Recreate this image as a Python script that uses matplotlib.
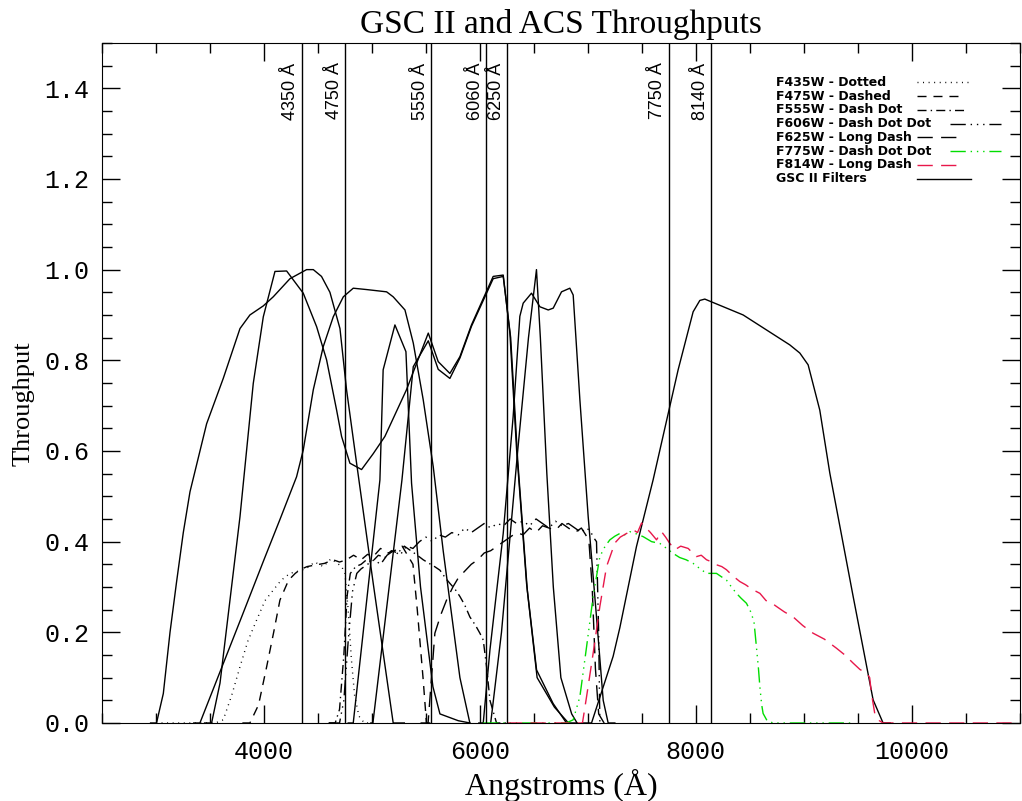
import matplotlib
matplotlib.use("Agg")
import matplotlib.pyplot as plt
from matplotlib.ticker import MultipleLocator, FormatStrFormatter

# ACS pivot wavelengths marked with vertical lines
pivot_waves = [4350, 4750, 5550, 6060, 6250, 7750, 8140]

# GSC II filter curves (solid)
g1_lam = [2950, 3005, 3068, 3130, 3190, 3253, 3315, 3469, 3623, 3778, 3870, 3994, 4086,
          4241, 4395, 4457, 4533, 4611, 4704, 4765, 4858, 5012, 5197, 5300]
g1_thr = [0.0, 0.0, 0.065, 0.2, 0.31, 0.42, 0.51, 0.66, 0.76, 0.87, 0.90, 0.92, 0.94,
          0.98, 1.0, 1.0, 0.985, 0.95, 0.87, 0.735, 0.573, 0.308, 0.0, 0.0]

g2_lam = [3450, 3515, 3593, 3778, 3901, 3994, 4102, 4210, 4364, 4488, 4580, 4673, 4719,
          4796, 4904, 5012, 5120, 5320, 5522, 5614, 5722, 5815, 5922, 6123, 6216, 6278,
          6340, 6432, 6525, 6678, 6802, 6900]
g2_thr = [0.0, 0.0, 0.088, 0.455, 0.749, 0.896, 0.996, 0.997, 0.948, 0.874, 0.801, 0.690,
          0.632, 0.573, 0.559, 0.594, 0.632, 0.735, 0.860, 0.797, 0.771, 0.808, 0.878,
          0.985, 0.988, 0.860, 0.602, 0.308, 0.117, 0.043, 0.0, 0.0]

g2b_lam = [4990, 5009, 5278, 5383, 5522, 5614, 5722, 5815, 5922, 6123, 6216, 6285, 6350,
           6440, 6530, 6690, 6820]
g2b_thr = [0.0, 0.0, 0.536, 0.786, 0.843, 0.78, 0.760, 0.805, 0.875, 0.98, 0.985, 0.85,
           0.58, 0.29, 0.10, 0.035, 0.0]

g3_lam = [3350, 3407, 3600, 3800, 4000, 4150, 4302, 4364, 4457, 4549, 4642, 4735, 4827,
          4951, 5136, 5197, 5306, 5383, 5475, 5568, 5660, 5815, 5907]
g3_thr = [0.0, 0.0, 0.117, 0.238, 0.36, 0.45, 0.543, 0.602, 0.735, 0.830, 0.896, 0.940,
          0.959, 0.956, 0.951, 0.940, 0.911, 0.838, 0.713, 0.565, 0.38, 0.10, 0.0]

g4_lam = [4780, 4827, 5074, 5104, 5213, 5315, 5367, 5450, 5565, 5630, 5800, 5907]
g4_thr = [0.0, 0.0, 0.536, 0.779, 0.878, 0.819, 0.529, 0.30, 0.08, 0.02, 0.005, 0.0]

g5_lam = [6100, 6200, 6350, 6450, 6524, 6560, 6620, 6680, 6750, 6850, 6900]
g5_thr = [0.0, 0.2, 0.6, 0.85, 1.0, 0.85, 0.55, 0.3, 0.1, 0.02, 0.0]

g6_lam = [5990, 6031, 6093, 6216, 6308, 6370, 6401, 6478, 6556, 6633, 6679, 6756, 6833,
          6864, 6926, 7003, 7080, 7142, 7188, 7250]
g6_thr = [0.0, 0.0, 0.161, 0.418, 0.676, 0.897, 0.926, 0.948, 0.918, 0.911, 0.915, 0.951,
          0.959, 0.944, 0.713, 0.455, 0.234, 0.05, 0.0, 0.0]

g7_lam = [6950, 7034, 7234, 7296, 7450, 7604, 7836, 7975, 8037, 8083, 8438, 8870, 8963,
          9040, 9148, 9241, 9457, 9642, 9734, 9800]
g7_thr = [0.0, 0.0, 0.147, 0.21, 0.389, 0.536, 0.779, 0.907, 0.932, 0.935, 0.900, 0.834,
          0.816, 0.790, 0.690, 0.551, 0.279, 0.051, 0.0, 0.0]

# ACS filters
f435_lam = [3000, 3550, 3623, 3700, 3778, 3850, 3932, 4010, 4086, 4160, 4241, 4320, 4395,
            4470, 4549, 4620, 4680, 4720, 4750, 4780, 4810, 4840, 4880, 4930, 5000]
f435_thr = [0.0, 0.0, 0.007, 0.06, 0.124, 0.18, 0.227, 0.27, 0.293, 0.315, 0.330, 0.335,
            0.341, 0.355, 0.345, 0.362, 0.352, 0.345, 0.33, 0.25, 0.14, 0.06, 0.015, 0.0, 0.0]

f475_lam = [3800, 3870, 3950, 4025, 4090, 4148, 4228, 4290, 4333, 4400, 4488, 4560, 4640,
            4700, 4765, 4830, 4900, 4960, 5012, 5080, 5150, 5228, 5280, 5330, 5380, 5420,
            5475, 5505, 5600]
f475_thr = [0.0, 0.0, 0.04, 0.124, 0.2, 0.271, 0.315, 0.33, 0.338, 0.345, 0.349, 0.352,
            0.36, 0.355, 0.36, 0.37, 0.36, 0.372, 0.367, 0.385, 0.375, 0.382, 0.39, 0.37,
            0.35, 0.25, 0.095, 0.0, 0.0]

f555_lam = [4600, 4660, 4700, 4740, 4770, 4800, 4850, 4900, 4950, 5000, 5060, 5120, 5180,
            5240, 5300, 5360, 5420, 5475, 5530, 5580, 5630, 5680, 5722, 5770, 5815, 5860,
            5907, 5960, 6000, 6031, 6062, 6093, 6154, 6250]
f555_thr = [0.0, 0.0, 0.03, 0.15, 0.28, 0.33, 0.345, 0.35, 0.36, 0.355, 0.37, 0.365, 0.38,
            0.375, 0.39, 0.38, 0.37, 0.36, 0.352, 0.345, 0.337, 0.32, 0.308, 0.295, 0.279,
            0.26, 0.234, 0.215, 0.198, 0.183, 0.124, 0.05, 0.0, 0.0]

f606_lam = [4600, 4700, 4740, 4780, 4820, 4860, 4900, 4960, 5020, 5080, 5140, 5200, 5260,
            5320, 5380, 5440, 5500, 5560, 5620, 5680, 5740, 5800, 5860, 5920, 5980, 6040,
            6100, 6160, 6220, 6280, 6340, 6400, 6460, 6520, 6580, 6640, 6700, 6760, 6820,
            6880, 6940, 6980, 7020, 7050, 7080, 7100, 7111, 7200]
f606_thr = [0.0, 0.0, 0.05, 0.18, 0.29, 0.33, 0.34, 0.35, 0.36, 0.35, 0.37, 0.38, 0.37,
            0.39, 0.385, 0.40, 0.41, 0.40, 0.415, 0.41, 0.42, 0.415, 0.43, 0.42, 0.43, 0.44,
            0.43, 0.44, 0.435, 0.45, 0.44, 0.445, 0.435, 0.45, 0.44, 0.43, 0.445, 0.435,
            0.44, 0.43, 0.42, 0.43, 0.425, 0.41, 0.40, 0.2, 0.0, 0.0]

f625_lam = [5450, 5520, 5583, 5640, 5691, 5750, 5800, 5860, 5920, 5980, 6040, 6100, 6160,
            6220, 6280, 6340, 6400, 6460, 6520, 6580, 6640, 6700, 6760, 6820, 6880, 6940,
            6980, 7010, 7040, 7070, 7100, 7150]
f625_thr = [0.0, 0.0, 0.198, 0.24, 0.271, 0.30, 0.32, 0.335, 0.35, 0.36, 0.375, 0.38, 0.39,
            0.40, 0.41, 0.42, 0.415, 0.43, 0.42, 0.435, 0.43, 0.425, 0.44, 0.43, 0.42, 0.43,
            0.415, 0.40, 0.30, 0.12, 0.02, 0.0]

f775_lam = [6030, 6800, 6864, 6926, 6988, 7049, 7111, 7160, 7204, 7250, 7296, 7340, 7389,
            7440, 7512, 7590, 7667, 7730, 7790, 7850, 7910, 7975, 8040, 8099, 8150, 8191,
            8240, 8284, 8330, 8376, 8420, 8469, 8515, 8540, 8561, 8580, 8593, 8610, 8623,
            8660, 8716, 9450]
f775_thr = [0.0, 0.0, 0.007, 0.058, 0.168, 0.279, 0.367, 0.39, 0.404, 0.412, 0.418, 0.415,
            0.422, 0.418, 0.411, 0.40, 0.396, 0.385, 0.374, 0.365, 0.36, 0.352, 0.34, 0.330,
            0.33, 0.330, 0.322, 0.315, 0.30, 0.286, 0.275, 0.264, 0.242, 0.22, 0.168, 0.12,
            0.080, 0.04, 0.021, 0.005, 0.0, 0.0]

f814_lam = [6250, 6950, 6988, 7049, 7111, 7173, 7250, 7300, 7358, 7420, 7460, 7497, 7540,
            7580, 7636, 7682, 7720, 7759, 7806, 7860, 7929, 7970, 8006, 8050, 8099, 8150,
            8191, 8240, 8284, 8340, 8407, 8460, 8520, 8593, 8650, 8700, 8747, 8820, 8901,
            8990, 9086, 9190, 9302, 9380, 9457, 9520, 9580, 9610, 9626, 9657, 9700, 9734,
            11000]
f814_thr = [0.0, 0.0, 0.058, 0.154, 0.257, 0.345, 0.397, 0.41, 0.418, 0.426, 0.42, 0.441,
            0.43, 0.42, 0.404, 0.422, 0.41, 0.396, 0.382, 0.39, 0.385, 0.375, 0.367, 0.37,
            0.360, 0.355, 0.349, 0.345, 0.338, 0.325, 0.312, 0.305, 0.295, 0.286, 0.27,
            0.265, 0.257, 0.245, 0.234, 0.215, 0.198, 0.185, 0.165, 0.15, 0.132, 0.118,
            0.110, 0.10, 0.066, 0.021, 0.005, 0.0, 0.0]

RED = "#e8174a"
GREEN = "#00dd00"
DOT = (0, (0.7, 3.3))
DASH = (0, (6.5, 5))
DASHDOT = (0, (6.5, 3, 1, 3))
DASHDOTDOT = (0, (11, 3.5, 1, 3.5, 1, 3.5, 1, 3.5))
LONGDASH = (0, (11, 6))

fig = plt.figure(figsize=(10.22, 8.01), dpi=100)
ax = fig.add_axes([0.0998, 0.0974, 0.898, 0.849])

lw = 1.0
for lam, thr in [(g1_lam, g1_thr), (g2_lam, g2_thr), (g2b_lam, g2b_thr), (g3_lam, g3_thr),
                 (g4_lam, g4_thr), (g5_lam, g5_thr), (g6_lam, g6_thr), (g7_lam, g7_thr)]:
    ax.plot(lam, thr, color="black", lw=lw)

ax.plot(f435_lam, f435_thr, color="black", lw=lw, linestyle=DOT)
ax.plot(f475_lam, f475_thr, color="black", lw=lw, linestyle=DASH)
ax.plot(f555_lam, f555_thr, color="black", lw=lw, linestyle=DASHDOT)
ax.plot(f606_lam, f606_thr, color="black", lw=lw, linestyle=DASHDOTDOT)
ax.plot(f625_lam, f625_thr, color="black", lw=lw, linestyle=LONGDASH)
ax.plot(f775_lam, f775_thr, color=GREEN, lw=lw, linestyle=DASHDOTDOT)
ax.plot(f814_lam, f814_thr, color=RED, lw=lw, linestyle=LONGDASH)

for w in pivot_waves:
    ax.axvline(w, color="black", lw=1.0)
    ax.text(w - 22, 1.457, f"{w} Å", rotation=90, ha="right", va="top",
            family="Liberation Sans", fontsize=13)

ax.set_xlim(2500, 11000)
ax.set_ylim(0, 1.5)
ax.xaxis.set_major_locator(MultipleLocator(2000))
ax.xaxis.set_minor_locator(MultipleLocator(500))
ax.yaxis.set_major_locator(MultipleLocator(0.2))
ax.yaxis.set_minor_locator(MultipleLocator(0.05))
ax.yaxis.set_major_formatter(FormatStrFormatter("%.1f"))
ax.tick_params(which="both", direction="in", top=True, right=True, width=1)
ax.tick_params(which="major", length=13)
ax.tick_params(which="minor", length=7)
ax.tick_params(axis="x", pad=12)
ax.tick_params(axis="y", pad=9)
for lab in ax.get_xticklabels() + ax.get_yticklabels():
    lab.set_family("Liberation Mono")
    lab.set_fontsize(18)

ax.set_title("GSC II and ACS Throughputs", family="Liberation Serif", fontsize=24, pad=7)
ax.set_xlabel("Angstroms (Å)", family="Liberation Serif", fontsize=23, labelpad=4)
ax.set_ylabel("Throughput", family="Liberation Serif", fontsize=19)
ax.yaxis.set_label_coords(-0.073, 0.469)

# legend drawn IDL-style: text on the left, line sample on the right
legend_rows = [
    ("F435W - Dotted", "black", DOT, 0.888, 0.946),
    ("F475W - Dashed", "black", DASH, 0.888, 0.937),
    ("F555W - Dash Dot", "black", DASHDOT, 0.888, 0.942),
    ("F606W - Dash Dot Dot", "black", DASHDOTDOT, 0.924, 0.980),
    ("F625W - Long Dash", "black", LONGDASH, 0.888, 0.937),
    ("F775W - Dash Dot Dot", GREEN, DASHDOTDOT, 0.924, 0.980),
    ("F814W - Long Dash", RED, LONGDASH, 0.888, 0.937),
    ("GSC II Filters", "black", "-", 0.888, 0.947),
]
y0 = 0.942
dy = 0.0202
for i, (txt, col, ls, xa, xb) in enumerate(legend_rows):
    yy = y0 - i * dy
    ax.text(0.734, yy, txt, transform=ax.transAxes, ha="left", va="center",
            family="DejaVu Sans", fontweight="bold", fontsize=9)
    ax.plot([xa, xb], [yy, yy], transform=ax.transAxes, color=col, lw=lw, linestyle=ls)

fig.savefig("out.png", dpi=100)
